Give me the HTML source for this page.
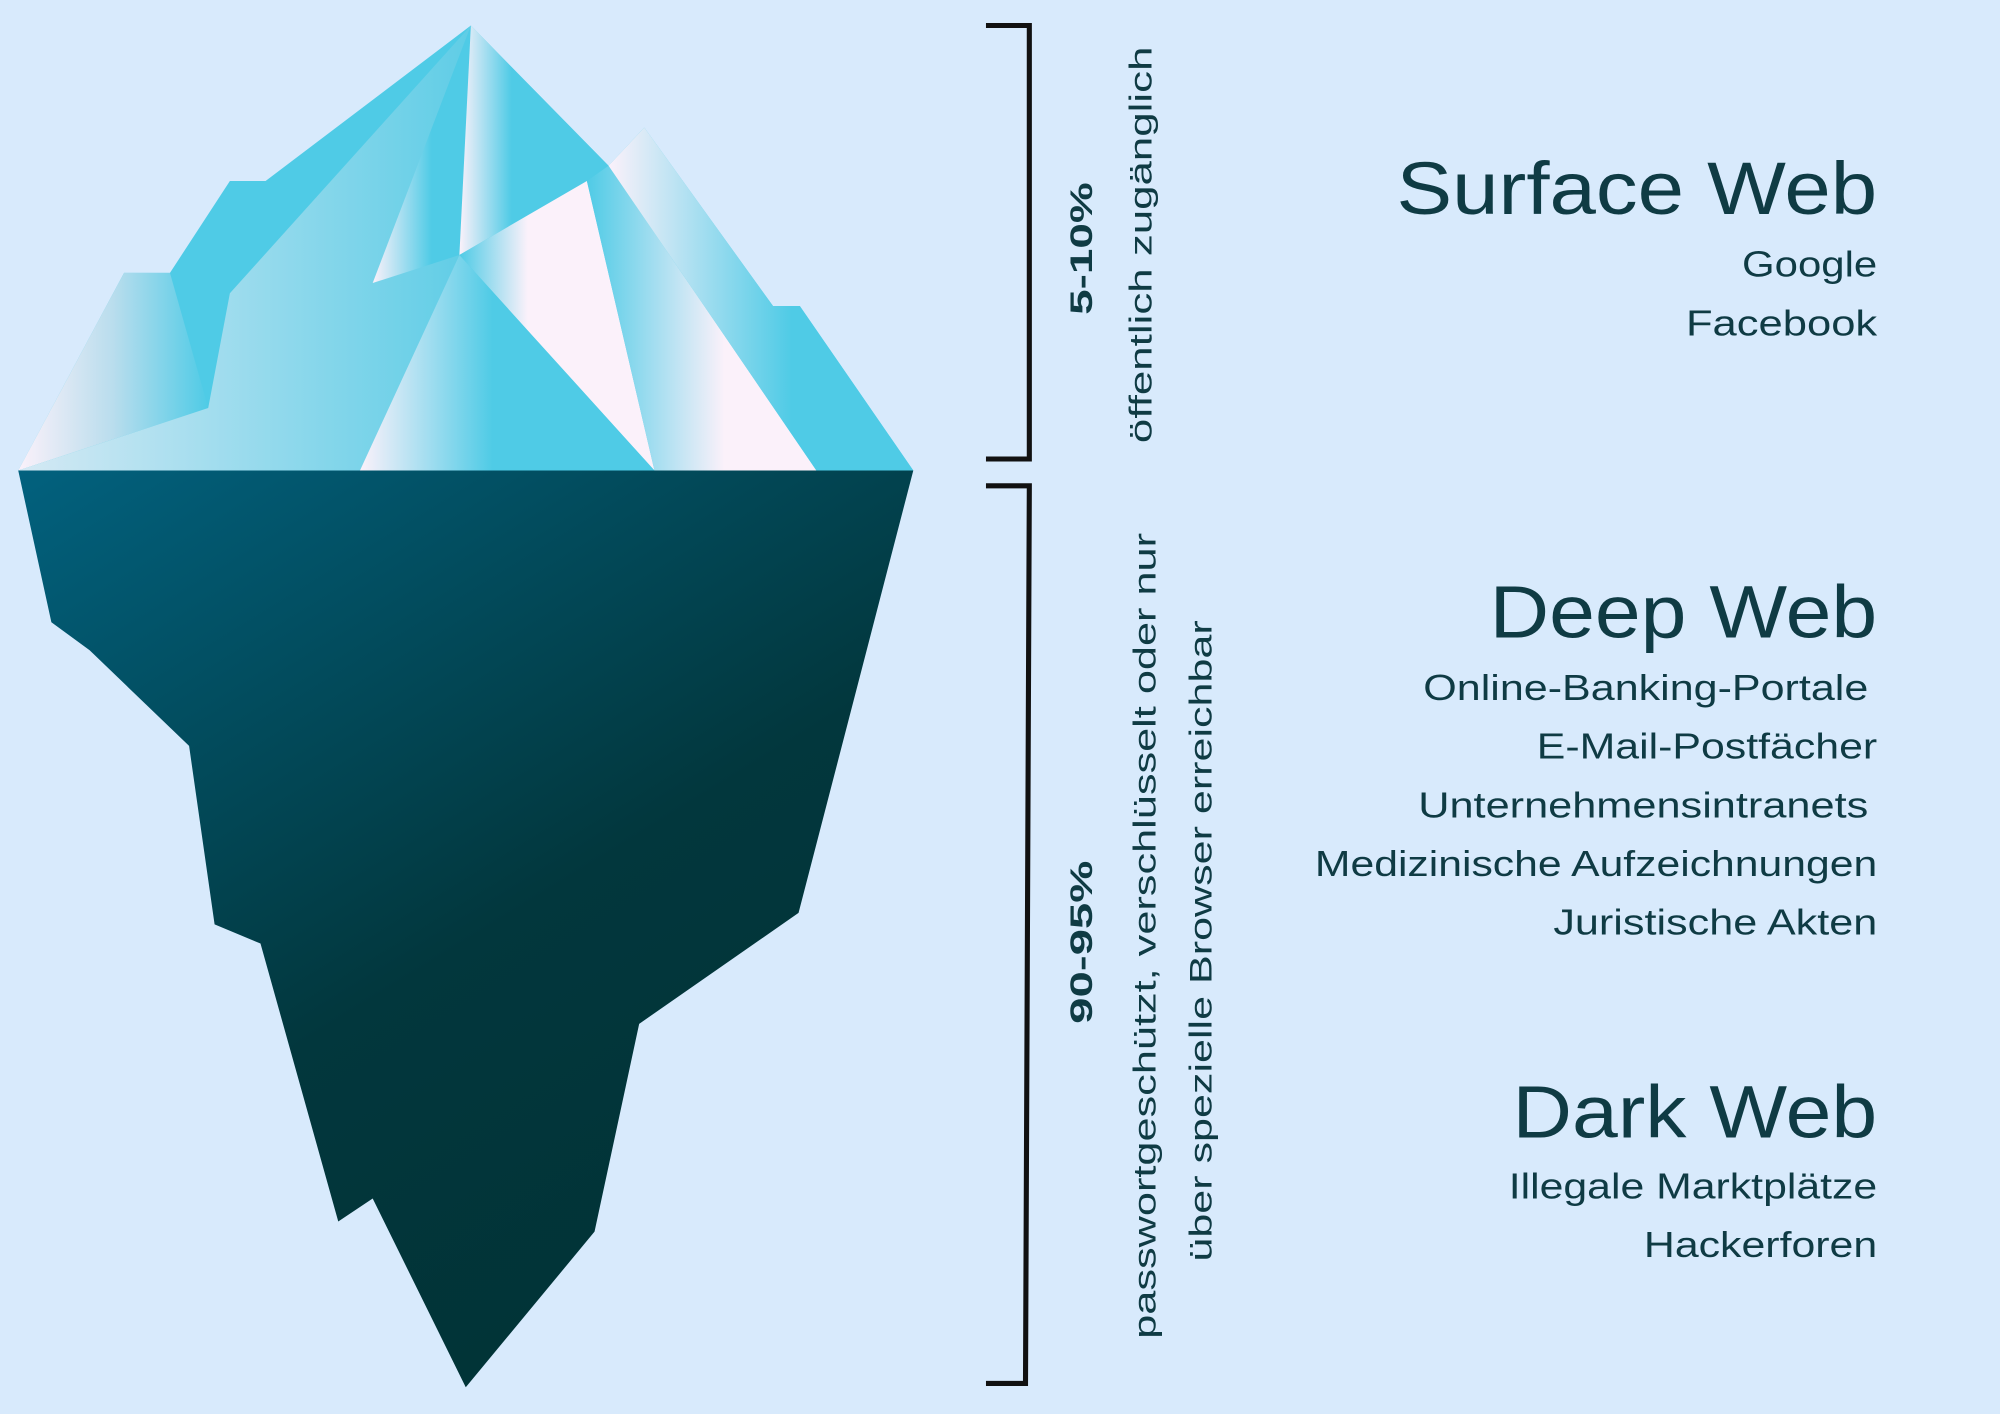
<!DOCTYPE html>
<html><head><meta charset="utf-8"><style>
html,body{margin:0;padding:0;background:#d8eafc;}
svg{display:block;}
text{font-family:"Liberation Sans",sans-serif;fill:#0f3b44;}
</style></head><body>
<svg width="2000" height="1414" viewBox="0 0 1568 1109" xmlns="http://www.w3.org/2000/svg">
<defs>
<linearGradient id="gA" x1="0" y1="0" x2="1" y2="0"><stop offset="0" stop-color="#fbf1fa"/><stop offset="0.5" stop-color="#b9dded"/><stop offset="1" stop-color="#4fcbe6"/></linearGradient>
<linearGradient id="gB" x1="0" y1="0" x2="1" y2="0"><stop offset="0" stop-color="#d5e9f4"/><stop offset="1" stop-color="#5fcde6"/></linearGradient>
<linearGradient id="gC" x1="0" y1="0" x2="1" y2="0"><stop offset="0" stop-color="#fbf1fa"/><stop offset="0.6" stop-color="#4fcbe6"/></linearGradient>
<linearGradient id="gD" x1="0" y1="0" x2="1" y2="0"><stop offset="0" stop-color="#fbf1fa"/><stop offset="0.35" stop-color="#4fcbe6"/><stop offset="1" stop-color="#4fcbe6"/></linearGradient>
<linearGradient id="gE" x1="0" y1="0" x2="1" y2="0"><stop offset="0" stop-color="#4fcbe6"/><stop offset="0.35" stop-color="#fbf1fa"/><stop offset="1" stop-color="#fbf1fa"/></linearGradient>
<linearGradient id="gF" x1="0" y1="0" x2="1" y2="0"><stop offset="0" stop-color="#fbf1fa"/><stop offset="0.45" stop-color="#4fcbe6"/></linearGradient>
<linearGradient id="gH" x1="0" y1="0" x2="1" y2="0"><stop offset="0" stop-color="#4fcbe6"/><stop offset="0.6" stop-color="#fbf1fa"/></linearGradient>
<linearGradient id="gG" x1="0" y1="0" x2="1" y2="0"><stop offset="0" stop-color="#fbf1fa"/><stop offset="0.6" stop-color="#4fcbe6"/></linearGradient>
<linearGradient id="gW" x1="0" y1="0" x2="0.6" y2="1"><stop offset="0" stop-color="#02617e"/><stop offset="0.6" stop-color="#02373d"/><stop offset="1" stop-color="#013336"/></linearGradient>
</defs>
<g>
<polygon points="14,369 97,214 133,214 180,142 208,142 369,20 477,130 505,100 606,240 627,240 716,369" fill="#4fcbe6"/>
<polygon points="14,369 97,214 133,214 163,320" fill="url(#gA)"/>
<polygon points="14,369 163,320 180,230 369,20 360,200 282,369" fill="url(#gB)"/>
<polygon points="292,222 369,20 360,200" fill="url(#gC)"/>
<polygon points="360,200 369,20 477,130 460,142" fill="url(#gD)"/>
<polygon points="360,200 460,142 513,369" fill="url(#gE)"/>
<polygon points="282,369 360,200 513,369" fill="url(#gF)"/>
<polygon points="460,142 477,130 640,369 513,369" fill="url(#gH)"/>
<polygon points="477,130 505,100 606,240 627,240 716,369 640,369" fill="url(#gG)"/>
</g>
<polygon points="14,369 716,369 626,716 501,803 466,966 365,1088 292,940 265,958 204,740 168,725 148,585 70,510 40,488" fill="url(#gW)"/>
<path d="M773,20 H807 V360 H773" fill="none" stroke="#111" stroke-width="4"/>
<path d="M773,381 H807 L804,1085 H773" fill="none" stroke="#111" stroke-width="4"/>
<g font-size="25" lengthAdjust="spacingAndGlyphs">
<text transform="translate(856,195) rotate(-90)" text-anchor="middle" font-weight="bold" textLength="104" lengthAdjust="spacingAndGlyphs">5-10%</text>
<text transform="translate(903,192) rotate(-90)" text-anchor="middle" textLength="311" lengthAdjust="spacingAndGlyphs">öffentlich zugänglich</text>
<text transform="translate(856,739) rotate(-90)" text-anchor="middle" font-weight="bold" textLength="128" lengthAdjust="spacingAndGlyphs">90-95%</text>
<text transform="translate(906,734) rotate(-90)" text-anchor="middle" textLength="632" lengthAdjust="spacingAndGlyphs">passwortgeschützt, verschlüsselt oder nur</text>
<text transform="translate(950,738) rotate(-90)" text-anchor="middle" textLength="503" lengthAdjust="spacingAndGlyphs">über spezielle Browser erreichbar</text>
</g>
<g text-anchor="end">
<text x="1472" y="168" font-size="58" textLength="377" lengthAdjust="spacingAndGlyphs">Surface Web</text>
<text x="1472" y="217" font-size="28" textLength="106" lengthAdjust="spacingAndGlyphs">Google</text>
<text x="1472" y="263" font-size="28" textLength="150" lengthAdjust="spacingAndGlyphs">Facebook</text>
<text x="1472" y="500" font-size="58" textLength="304" lengthAdjust="spacingAndGlyphs">Deep Web</text>
<text x="1465" y="549" font-size="28" textLength="349" lengthAdjust="spacingAndGlyphs">Online-Banking-Portale</text>
<text x="1472" y="595" font-size="28" textLength="267" lengthAdjust="spacingAndGlyphs">E-Mail-Postfächer</text>
<text x="1465" y="641" font-size="28" textLength="353" lengthAdjust="spacingAndGlyphs">Unternehmensintranets</text>
<text x="1472" y="687" font-size="28" textLength="441" lengthAdjust="spacingAndGlyphs">Medizinische Aufzeichnungen</text>
<text x="1472" y="733" font-size="28" textLength="254" lengthAdjust="spacingAndGlyphs">Juristische Akten</text>
<text x="1472" y="892" font-size="58" textLength="286" lengthAdjust="spacingAndGlyphs">Dark Web</text>
<text x="1472" y="940" font-size="28" textLength="289" lengthAdjust="spacingAndGlyphs">Illegale Marktplätze</text>
<text x="1472" y="986" font-size="28" textLength="183" lengthAdjust="spacingAndGlyphs">Hackerforen</text>
</g>
</svg>
</body></html>
